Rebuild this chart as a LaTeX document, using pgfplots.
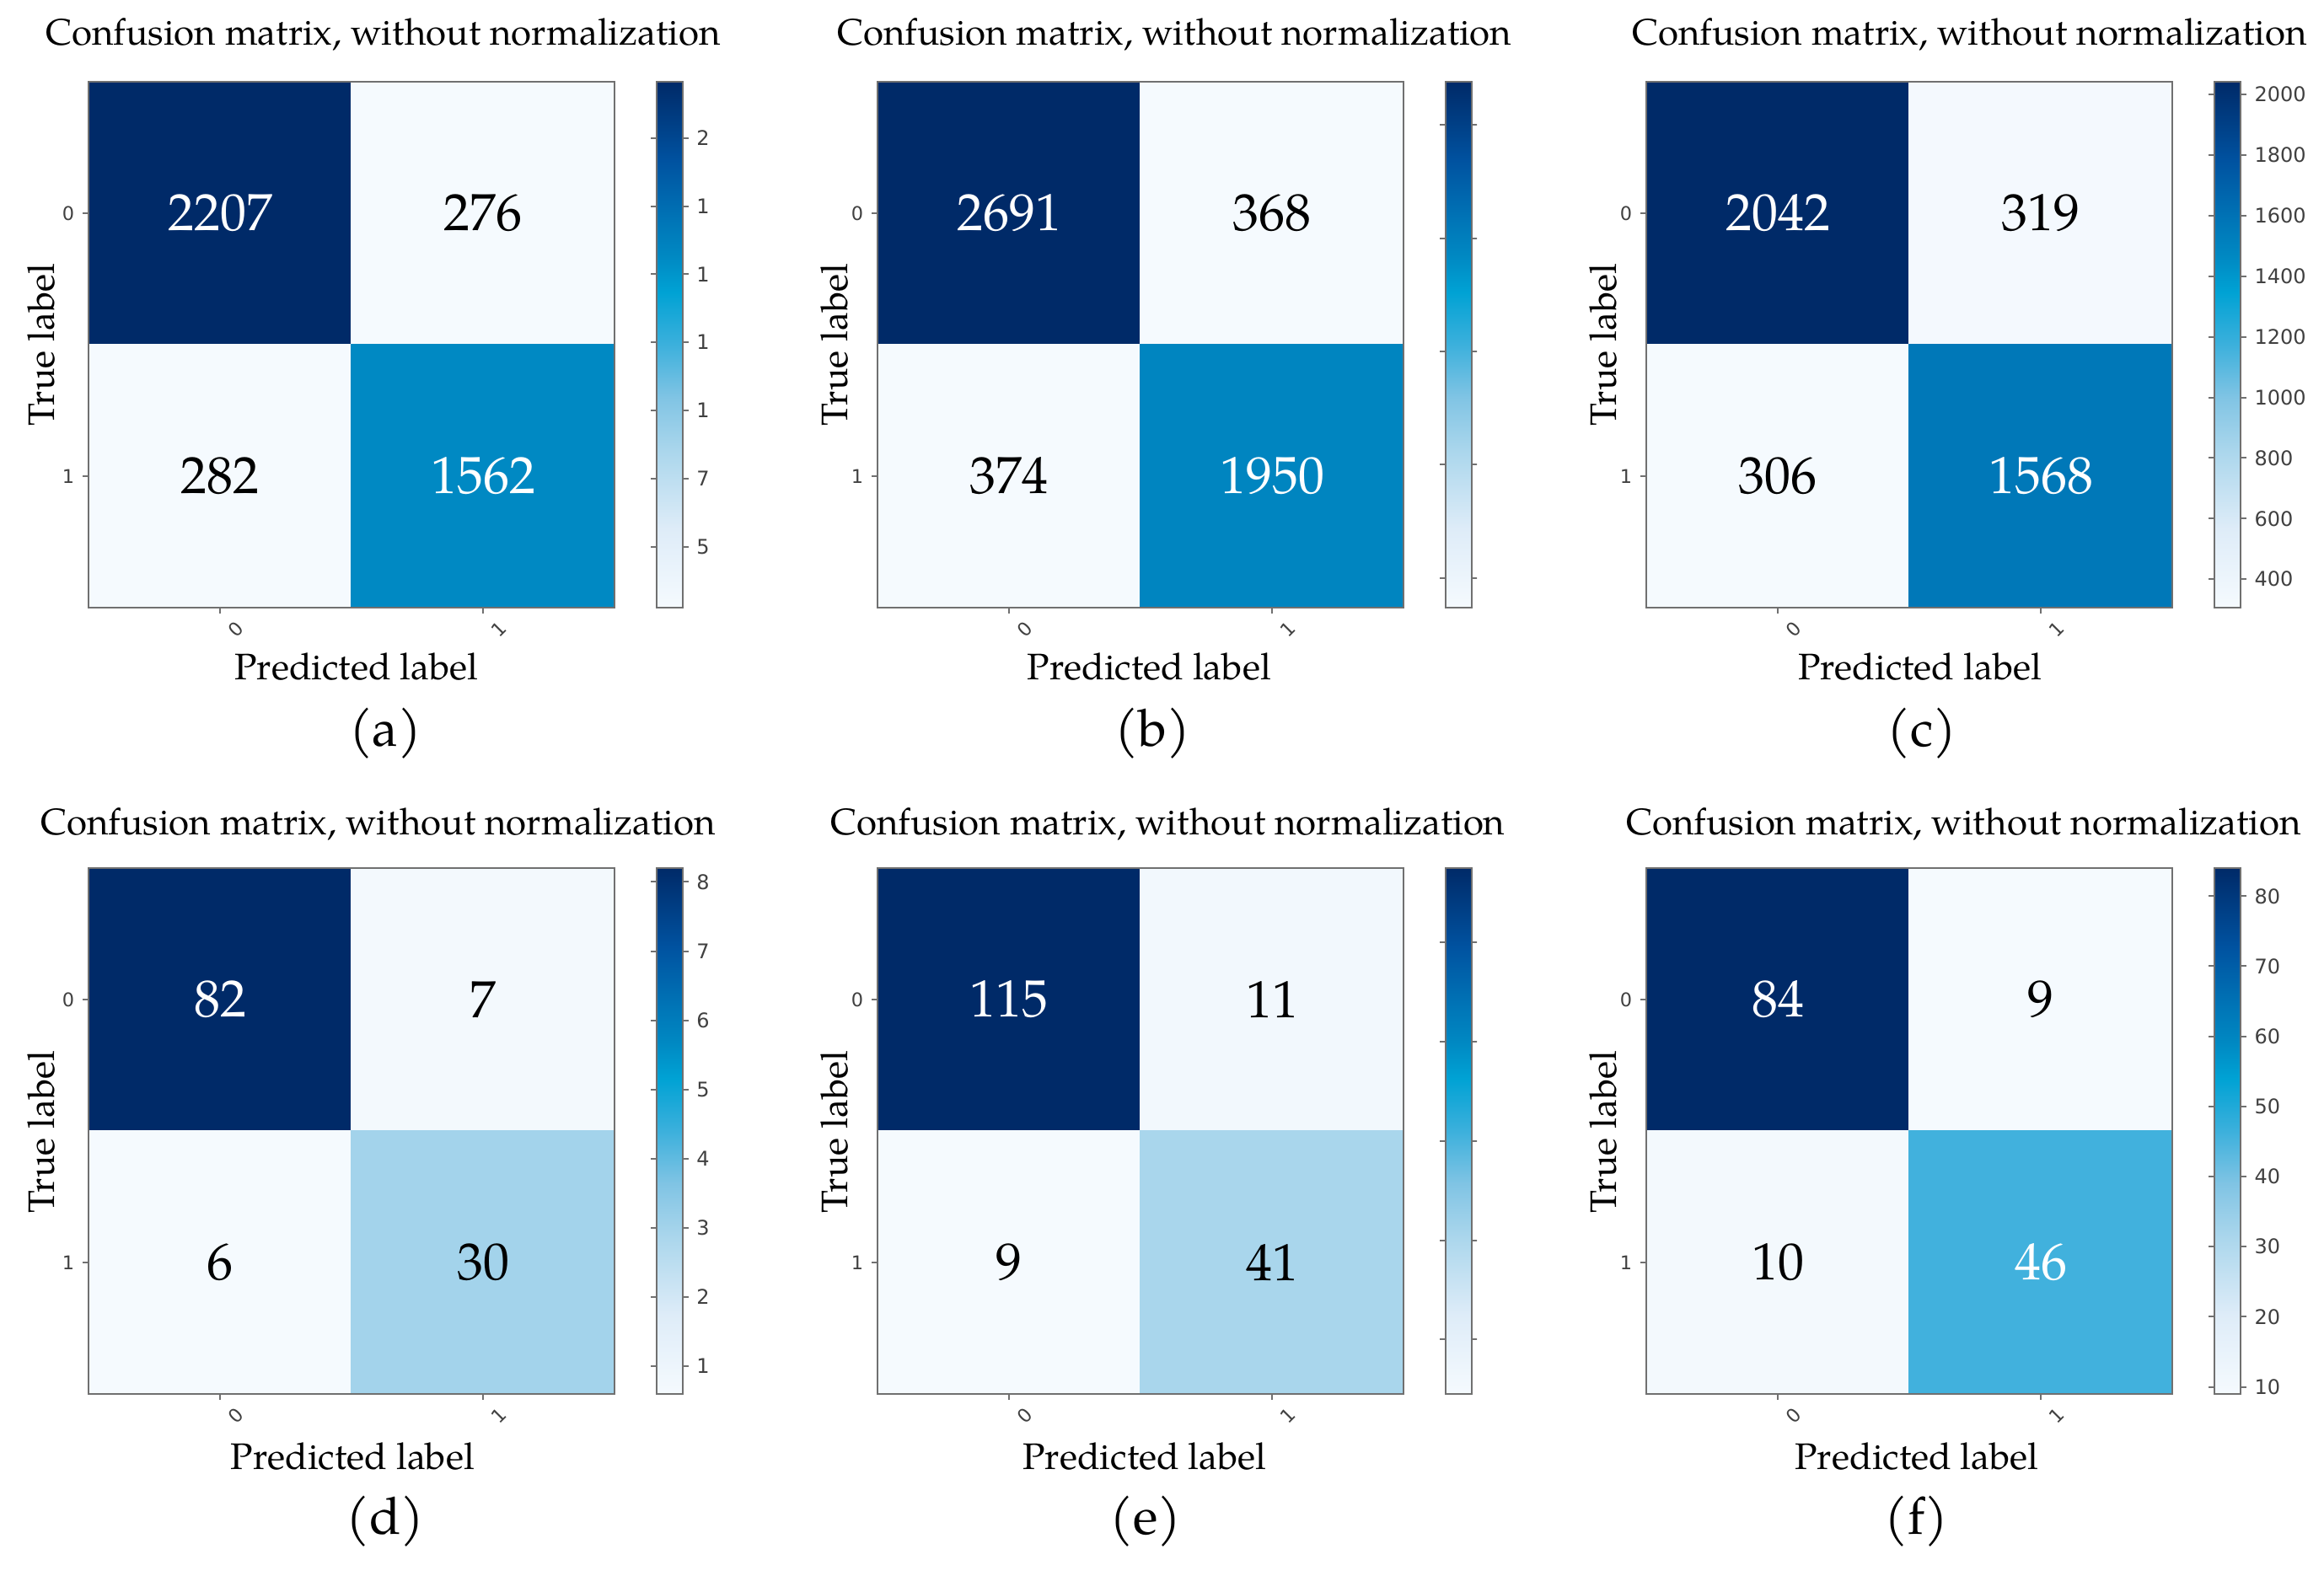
\documentclass[border=0pt]{standalone}
\usepackage{fontspec}
\setmainfont{TeX Gyre Pagella}
\newfontfamily\tickfont{DejaVu Sans}
\usepackage{pgfplots}
\pgfplotsset{compat=1.18}
\definecolor{framegray}{RGB}{112,112,112}
\definecolor{ticktext}{RGB}{64,64,64}
\pgfplotsset{
  colormap={cmblues}{rgb255(0cm)=(245,250,254) rgb255(15cm)=(222,236,248) rgb255(30cm)=(170,214,236) rgb255(40cm)=(128,196,228) rgb255(50cm)=(60,176,220) rgb255(60cm)=(0,162,212) rgb255(67cm)=(0,136,194) rgb255(73cm)=(0,119,184) rgb255(85cm)=(0,82,160) rgb255(100cm)=(0,42,104)},
  cm/.style={
    scale only axis, width=156pt, height=156pt,
    anchor=south west,
    xmin=-0.5, xmax=1.5, ymin=-0.5, ymax=1.5,
    y dir=reverse, enlargelimits=false,
    colormap name=cmblues,
    xtick={0,1}, ytick={0,1},
    xticklabels={0,1}, yticklabels={0,1},
    xtick pos=left, ytick pos=left,
    tick align=outside, major tick length=1.75pt,
    every tick/.style={framegray, line width=0.5pt},
    axis line style={framegray, line width=0.6pt},
    tick label style={font=\tickfont\fontsize{5.6}{6.5}\selectfont, text=ticktext},
    xticklabel style={rotate=45, anchor=center, yshift=-6.5pt},
    yticklabel style={anchor=center, xshift=-4.25pt},
    axis on top,
    colorbar,
    colorbar style={
      at={(parent axis.north east)}, anchor=north west, xshift=4pt,
      scale only axis, width=7.75pt, height=156pt,
      axis line style={framegray, line width=0.6pt},
      tick align=outside, major tick length=1.75pt,
      every tick/.style={framegray, line width=0.5pt},
      scaled y ticks=false,
      yticklabel style={font=\tickfont\fontsize{6.0}{7}\selectfont, text=ticktext, xshift=-1.2pt,
        /pgf/number format/assume math mode=true,
        /pgf/number format/1000 sep={}},
    },
  },
  celltxt/.style={only marks, mark=none, nodes near coords, point meta=explicit symbolic,
    nodes near coords style={anchor=center, font=\fontsize{15.5}{17}\selectfont, text=#1}},
}
\begin{document}
\begin{tikzpicture}
\useasboundingbox (0,0) rectangle (689.25pt,467.5pt);
% ---------------- (a)
\begin{scope}
\clip (0,0) rectangle (210.5pt,467.5pt);
\begin{axis}[cm, at={(26.25pt,287.25pt)}, colorbar style={ytick={500,750,1000,1250,1500,1750,2000}}]
\addplot[matrix plot*, mesh/cols=2, point meta=explicit] table[meta=c]{
x y c
0 0 2207
1 0 276
0 1 282
1 1 1562
};
\addplot[celltxt=white] coordinates {(0,0)[2207] (1,1)[1562]};
\addplot[celltxt=black] coordinates {(1,0)[276] (0,1)[282]};
\end{axis}
\end{scope}
% ---------------- (b)
\begin{scope}
\clip (225pt,0) rectangle (438pt,467.5pt);
\begin{axis}[cm, at={(260.25pt,287.25pt)}, colorbar style={ytick={500,1000,1500,2000,2500}}]
\addplot[matrix plot*, mesh/cols=2, point meta=explicit] table[meta=c]{
x y c
0 0 2691
1 0 368
0 1 374
1 1 1950
};
\addplot[celltxt=white] coordinates {(0,0)[2691] (1,1)[1950]};
\addplot[celltxt=black] coordinates {(1,0)[368] (0,1)[374]};
\end{axis}
\end{scope}
% ---------------- (c)
\begin{axis}[cm, at={(488.25pt,287.25pt)}, colorbar style={ytick={400,600,800,1000,1200,1400,1600,1800,2000}}]
\addplot[matrix plot*, mesh/cols=2, point meta=explicit] table[meta=c]{
x y c
0 0 2042
1 0 319
0 1 306
1 1 1568
};
\addplot[celltxt=white] coordinates {(0,0)[2042] (1,1)[1568]};
\addplot[celltxt=black] coordinates {(1,0)[319] (0,1)[306]};
\end{axis}
% ---------------- (d)
\begin{scope}
\clip (0,0) rectangle (210.5pt,467.5pt);
\begin{axis}[cm, at={(26.25pt,54pt)}, colorbar style={ytick={10,20,30,40,50,60,70,80}}]
\addplot[matrix plot*, mesh/cols=2, point meta=explicit] table[meta=c]{
x y c
0 0 82
1 0 7
0 1 6
1 1 30
};
\addplot[celltxt=white] coordinates {(0,0)[82]};
\addplot[celltxt=black] coordinates {(1,0)[7] (0,1)[6] (1,1)[30]};
\end{axis}
\end{scope}
% ---------------- (e)
\begin{scope}
\clip (225pt,0) rectangle (438pt,467.5pt);
\begin{axis}[cm, at={(260.25pt,54pt)}, colorbar style={ytick={20,40,60,80,100}}]
\addplot[matrix plot*, mesh/cols=2, point meta=explicit] table[meta=c]{
x y c
0 0 115
1 0 11
0 1 9
1 1 41
};
\addplot[celltxt=white] coordinates {(0,0)[115]};
\addplot[celltxt=black] coordinates {(1,0)[11] (0,1)[9] (1,1)[41]};
\end{axis}
\end{scope}
% ---------------- (f)
\begin{axis}[cm, at={(488.25pt,54pt)}, colorbar style={ytick={10,20,30,40,50,60,70,80}}]
\addplot[matrix plot*, mesh/cols=2, point meta=explicit] table[meta=c]{
x y c
0 0 84
1 0 9
0 1 10
1 1 46
};
\addplot[celltxt=white] coordinates {(0,0)[84] (1,1)[46]};
\addplot[celltxt=black] coordinates {(1,0)[9] (0,1)[10]};
\end{axis}
% ---------------- texts
\begin{scope}[every node/.style={font=\fontsize{10.95}{12}\selectfont, inner sep=0pt}]
\node at (113.6pt,457.3pt) {Confusion matrix, without normalization};
\node at (348.3pt,457.3pt) {Confusion matrix, without normalization};
\node at (584.1pt,457.3pt) {Confusion matrix, without normalization};
\node at (112.1pt,223.1pt) {Confusion matrix, without normalization};
\node at (346.3pt,223.1pt) {Confusion matrix, without normalization};
\node at (582.4pt,223.1pt) {Confusion matrix, without normalization};
\node at (105.7pt,269.7pt) {Predicted label};
\node at (340.8pt,269.7pt) {Predicted label};
\node at (569.4pt,269.7pt) {Predicted label};
\node at (104.6pt,35.5pt) {Predicted label};
\node at (339.5pt,35.5pt) {Predicted label};
\node at (568.5pt,35.5pt) {Predicted label};
\node[rotate=90] at (12.3pt,365.25pt) {True label};
\node[rotate=90] at (247.4pt,365.25pt) {True label};
\node[rotate=90] at (475.5pt,365.25pt) {True label};
\node[rotate=90] at (12.3pt,131.75pt) {True label};
\node[rotate=90] at (247.4pt,131.75pt) {True label};
\node[rotate=90] at (475.5pt,131.75pt) {True label};
\end{scope}
\begin{scope}[every node/.style={font=\fontsize{15.3}{17}\selectfont, inner sep=0pt}]
\node at (114.3pt,250pt) {(a)};
\node at (341.9pt,250pt) {(b)};
\node at (570pt,250pt) {(c)};
\node at (114.3pt,16.1pt) {(d)};
\node at (339.7pt,16.1pt) {(e)};
\node at (568.3pt,16.1pt) {(f)};
\end{scope}
\end{tikzpicture}
\end{document}
